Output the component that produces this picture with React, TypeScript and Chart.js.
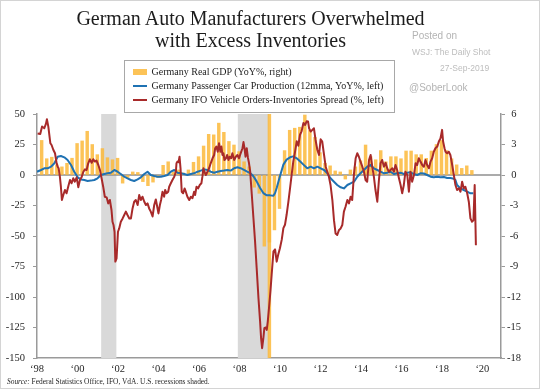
import React, { useEffect, useRef } from 'react';
import { Chart, registerables } from 'chart.js';

Chart.register(...registerables);

// ---------- text ----------
const titleLines = ['German Auto Manufacturers Overwhelmed', 'with Excess Inventories'];
const legendLabels = [
  'Germany Real GDP (YoY%, right)',
  'Germany Passenger Car Production (12mma, YoY%, left)',
  'Germany IFO Vehicle Orders-Inventories Spread (%, left)',
];
const watermarkLines = ['Posted on', 'WSJ: The Daily Shot', '27-Sep-2019', '@SoberLook'];
const sourceLabel = 'Source:';
const sourceText = ' Federal Statistics Office, IFO, VdA. U.S. recessions shaded.';

// ---------- axes ----------
const xTickYears = [1998, 2000, 2002, 2004, 2006, 2008, 2010, 2012, 2014, 2016, 2018, 2020];
const xMin = 1998;
const xMax = 2020.92;
const leftMin = -150;
const leftMax = 50;
const leftStep = 25;
const rightMin = -18;
const rightMax = 6;
const rightStep = 3;

// U.S. recessions (decimal years)
const recessionStarts = [2001.17, 2007.92];
const recessionEnds = [2001.92, 2009.45];

// ---------- Germany real GDP, YoY %, quarterly from 1998Q1 (right axis) ----------
const gdpFirstYear = 1998;
const gdpValues = [
  3.4, 1.6, 1.75, 1.0, // 1998
  0.8, 1.15, 1.65, 3.1, // 1999
  3.35, 4.3, 3.0, 2.0, // 2000
  2.6, 1.7, 1.5, 1.65, // 2001
  -0.8, -0.25, 0.3, 0.25, // 2002
  -0.65, -1.05, -0.7, -0.25, // 2003
  0.95, 1.3, 0.3, 0.5, // 2004
  0.2, 0.5, 1.25, 1.8, // 2005
  2.85, 4.0, 3.95, 5.1, // 2006
  4.2, 3.3, 2.95, 2.3, // 2007
  1.3, 0.8, -1.2, -1.8, // 2008
  -7.0, -6.6, -5.4, -3.3, // 2009
  2.4, 4.4, 4.6, 4.7, // 2010
  5.9, 4.4, 3.7, 2.2, // 2011
  1.15, 0.9, 0.4, 0.3, // 2012
  -0.4, 0.5, 0.8, 1.4, // 2013
  2.95, 1.8, 1.5, 2.4, // 2014
  1.3, 1.8, 1.8, 1.6, // 2015
  2.36, 2.36, 2.0, 2.0, // 2016
  1.64, 2.36, 3.0, 3.4, // 2017
  2.4, 1.6, 1.0, 0.65, // 2018
  0.9, 0.45, // 2019
];
// spurious full-height GDP bar drawn in the source around mid-2009
const gdpSpikeX = [2009.48];
const gdpSpikeRange = [[-18, 6]];

// ---------- Passenger car production, 12mma YoY % (left axis) ----------
const carYears = [
  1998.0, 1998.2, 1998.36, 1998.53, 1998.69, 1998.86, 1999.02, 1999.18, 1999.35, 1999.51,
  1999.68, 1999.84, 2000.01, 2000.17, 2000.34, 2000.5, 2000.66, 2000.83, 2000.99, 2001.16,
  2001.32, 2001.49, 2001.65, 2001.82, 2001.98, 2002.14, 2002.31, 2002.47, 2002.64, 2002.8,
  2002.97, 2003.13, 2003.3, 2003.46, 2003.62, 2003.79, 2003.95, 2004.12, 2004.28, 2004.45,
  2004.61, 2004.78, 2004.94, 2005.1, 2005.27, 2005.43, 2005.6, 2005.76, 2005.93, 2006.09,
  2006.26, 2006.42, 2006.58, 2006.75, 2006.91, 2007.08, 2007.24, 2007.41, 2007.57, 2007.74,
  2007.9, 2008.06, 2008.2, 2008.36, 2008.53, 2008.69, 2008.85, 2009.02, 2009.18, 2009.35,
  2009.51, 2009.68, 2009.76, 2009.84, 2010.0, 2010.17, 2010.33, 2010.5, 2010.66, 2010.83,
  2010.99, 2011.16, 2011.35, 2011.52, 2011.68, 2011.85, 2012.01, 2012.18, 2012.34, 2012.5,
  2012.67, 2012.83, 2013.0, 2013.16, 2013.33, 2013.49, 2013.66, 2013.82, 2013.98, 2014.15,
  2014.31, 2014.48, 2014.64, 2014.81, 2014.97, 2015.14, 2015.3, 2015.46, 2015.63, 2015.79,
  2015.96, 2016.12, 2016.29, 2016.45, 2016.62, 2016.78, 2016.94, 2017.11, 2017.27, 2017.44,
  2017.6, 2017.77, 2017.93, 2018.1, 2018.26, 2018.42, 2018.59, 2018.67, 2018.75, 2018.92,
  2019.08, 2019.25, 2019.41, 2019.55,
];
const carValues = [
  2.7, 4.1, 5.5, 5.5, 6.8, 9.6, 15, 15.6, 14.5, 12.3,
  8.2, 2.7, -1.9, -3.6, -4.1, -4.9, -4.6, -4.1, -2.7, 0,
  0.8, 1.4, 1.9, 4.1, 2.7, 0.8, -1.4, -2.7, -4.1, -4.9,
  -3.6, -1.9, 0.8, 2.7, 0, -0.8, -1.4, -1.4, -0.8, 0,
  2.7, 4.1, 1.9, 1.4, 0.8, 0, 0.8, 1.4, 2.7, 3.6,
  4.6, 4.1, 2.7, 1.9, 2.7, 3.3, 3.6, 4.1, 3.6, 5.5,
  6.3, 5.6, 4.4, 3.0, 1.6, -1.0, -5.2, -10.7, -14.8, -16.7,
  -16.7, -17, -14.8, -10.7, -1, 8.5, 12.6, 14.5, 15.3, 13.7,
  11.2, 8.5, 5.5, 6.8, 5.5, 6.8, 5.5, 4.1, 1.4, -2.7,
  -5.5, -8.2, -10.1, -11, -8.2, -6.8, -5.5, -1.4, 1.4, 4.1,
  6.8, 8.2, 5.5, 4.1, 2.7, 1.4, 1.9, 2.7, 0.8, 1.4,
  1.9, 0.8, 1.9, 2.2, 0.8, 0, 1.4, 1.2, 0, -1.4,
  -1.9, -1.4, -1.9, -1.6, -2.5, -2.5, -3.0, -4.1, -8.2, -11,
  -12.3, -13.7, -15, -15,
];

// ---------- IFO vehicle orders-inventories spread, % (left axis) ----------
const ifoYears = [
  1998.03, 1998.16, 1998.25, 1998.36, 1998.44, 1998.49, 1998.56, 1998.66, 1998.72, 1998.81,
  1998.89, 1998.97, 1999.02, 1999.07, 1999.13, 1999.18, 1999.23, 1999.3, 1999.38, 1999.46,
  1999.55, 1999.63, 1999.71, 1999.79, 1999.87, 1999.96, 2000.04, 2000.12, 2000.2, 2000.29,
  2000.37, 2000.45, 2000.53, 2000.61, 2000.7, 2000.78, 2000.86, 2000.94, 2001.03, 2001.11,
  2001.19, 2001.27, 2001.35, 2001.44, 2001.52, 2001.6, 2001.68, 2001.73, 2001.78, 2001.83,
  2001.87, 2001.93, 2002.0, 2002.06, 2002.14, 2002.23, 2002.31, 2002.39, 2002.47, 2002.56,
  2002.64, 2002.72, 2002.8, 2002.88, 2002.97, 2003.05, 2003.13, 2003.21, 2003.3, 2003.38,
  2003.46, 2003.54, 2003.62, 2003.71, 2003.79, 2003.87, 2003.95, 2004.0, 2004.07, 2004.13,
  2004.2, 2004.28, 2004.33, 2004.4, 2004.48, 2004.53, 2004.61, 2004.69, 2004.78, 2004.86,
  2004.89, 2004.94, 2004.99, 2005.04, 2005.09, 2005.15, 2005.22, 2005.29, 2005.35, 2005.43,
  2005.52, 2005.6, 2005.68, 2005.76, 2005.81, 2005.88, 2005.96, 2006.04, 2006.12, 2006.17,
  2006.22, 2006.27, 2006.34, 2006.42, 2006.5, 2006.58, 2006.67, 2006.75, 2006.8, 2006.86,
  2006.93, 2006.99, 2007.06, 2007.11, 2007.16, 2007.21, 2007.26, 2007.33, 2007.39, 2007.46,
  2007.52, 2007.59, 2007.65, 2007.74, 2007.82, 2007.9, 2007.98, 2008.06, 2008.15, 2008.2,
  2008.25, 2008.3, 2008.36, 2008.42, 2008.47, 2008.53, 2008.61, 2008.69, 2008.77, 2008.85,
  2008.94, 2009.02, 2009.07, 2009.12, 2009.18, 2009.23, 2009.3, 2009.35, 2009.4, 2009.46,
  2009.53, 2009.59, 2009.68, 2009.76, 2009.84, 2009.92, 2010.0, 2010.09, 2010.17, 2010.25,
  2010.33, 2010.42, 2010.5, 2010.58, 2010.66, 2010.75, 2010.83, 2010.91, 2010.99, 2011.07,
  2011.16, 2011.24, 2011.32, 2011.39, 2011.44, 2011.52, 2011.6, 2011.68, 2011.76, 2011.85,
  2011.93, 2012.01, 2012.09, 2012.18, 2012.26, 2012.34, 2012.42, 2012.5, 2012.59, 2012.67,
  2012.75, 2012.83, 2012.92, 2013.0, 2013.08, 2013.16, 2013.24, 2013.33, 2013.41, 2013.49,
  2013.57, 2013.66, 2013.74, 2013.82, 2013.9, 2013.98, 2014.07, 2014.15, 2014.23, 2014.31,
  2014.4, 2014.48, 2014.56, 2014.64, 2014.72, 2014.81, 2014.89, 2014.97, 2015.05, 2015.14,
  2015.22, 2015.3, 2015.38, 2015.46, 2015.55, 2015.63, 2015.71, 2015.79, 2015.88, 2015.96,
  2016.04, 2016.12, 2016.2, 2016.29, 2016.37, 2016.45, 2016.53, 2016.62, 2016.7, 2016.78,
  2016.86, 2016.94, 2017.03, 2017.11, 2017.19, 2017.27, 2017.36, 2017.44, 2017.52, 2017.6,
  2017.68, 2017.77, 2017.85, 2017.93, 2018.01, 2018.06, 2018.13, 2018.18, 2018.26, 2018.34,
  2018.42, 2018.51, 2018.59, 2018.67, 2018.75, 2018.84, 2018.92, 2019.0, 2019.08, 2019.16,
  2019.25, 2019.33, 2019.41, 2019.49, 2019.56, 2019.62, 2019.68,
];
const ifoValues = [
  34, 33.6, 39.7, 38.3, 41.9, 45.7, 39.7, 26, 24.6, 20.5,
  17.8, 9.6, 6.8, 5.5, -1.4, -9.6, -20.5, -16.4, -12.3, -15,
  -9, -4.1, -6.8, -2.7, -5.5, -1.9, -10, -4.1, -1.9, 2.7,
  4.6, 4.1, 9.6, 12.9, 10, 12.9, 11, 11.8, 8.2, 4.1,
  -2.7, -9.6, -17.8, -18.3, -23.3, -20.5, -28.7, -38.3, -41, -46.5,
  -71, -68.4, -46.5, -43.8, -38.3, -35.6, -32.8, -30, -32.8, -35.6,
  -35.6, -27.4, -21.9, -20.5, -24.6, -16.4, -20.5, -17.8, -21.9, -24.6,
  -23.3, -27.4, -30, -34, -24.6, -20, -27, -31.5, -24.6, -20.5,
  -13.7, -17.8, -12.3, -15, -13.7, -9.6, -6.8, -4.1, -1.4, 2.7,
  9.6, 11, 10.4, 15, 5.5, -13.7, -15, -11, -13.7, -17.8,
  -20.5, -17.8, -19, -13.7, -16.4, -9.6, -11, -8.2, -6.8, -1.4,
  5.5, 2.7, 0, 2.7, 5.5, 9.6, 13.7, 16.4, 21.9, 23.3,
  19.1, 26, 19.1, 23.3, 16.4, 17.8, 12.3, 13.7, 16.4, 12.3,
  15, 13.7, 17.8, 12.3, 15, 16.4, 13.7, 17.8, 21.9, 27,
  21.9, 15, 22, 14, 10, 3, -16, -35, -54, -76,
  -101, -120, -134, -142, -134, -125.6, -125, -127, -120, -109,
  -95.5, -82, -62.6, -61, -71, -65, -60, -53, -43.5, -40.8,
  -32.6, -21.6, -10.7, 0.3, 11.2, 19.4, 27.6, 24, 33, 35.8,
  42.7, 41, 44, 43.8, 38.3, 35.6, 37, 38.3, 28.7, 20.5,
  16.4, 29.3, 27.4, 16.4, 6.8, 2.7, -1.4, -8.2, -20.5, -37,
  -48, -49.2, -45, -43.8, -41, -30, -26, -20.5, -23.3, -17.8,
  -20.5, 1.4, 13.7, 17.8, 15, 11, 6.8, 2.7, -4.1, -5.5,
  12.3, 16.4, 6.8, -1.4, -12.3, -21.9, -4.1, 9.6, 12.3, 6.8,
  10, 5.5, 2.7, 4.1, 5.5, 2.7, 8.2, 4.1, -2.7, -8.2,
  -15, -8.2, 2.7, 0, -13.7, 2.7, -5.5, 0, 9.6, 8.2,
  13.7, 11, 8.2, 6.8, 12.3, 8.2, 5.5, 11, 13.7, 19.1,
  21.9, 23.3, 27.4, 30, 37, 27.4, 21.9, 19.1, 17.8, 19.1,
  16.4, 8.2, 0, -8.2, -12.3, -10.9, -13.7, -5.5, -10.9, -9.6,
  -15, -21.9, -35.6, -38.3, -37, -8.2, -57.5,
];

// ---------- style ----------
const SERIF = "'Liberation Serif', 'Times New Roman', serif";
const SANS = "'Liberation Sans', Arial, sans-serif";
const GDP_COLOR = 'rgba(251, 184, 58, 0.85)';
const CAR_COLOR = '#1f72b3';
const IFO_COLOR = '#a82a2a';
const AXIS_COLOR = '#9a9a9a';
const TICK_COLOR = '#262626';

const backgroundPlugin = {
  id: 'recessionsAndZero',
  beforeDatasetsDraw(chart: any) {
    const { ctx, chartArea, scales } = chart;
    const xs = scales.x;
    const ys = scales.y;
    ctx.save();
    ctx.fillStyle = '#d9d9d9';
    recessionStarts.forEach((s, i) => {
      const x0 = xs.getPixelForValue(s);
      const x1 = xs.getPixelForValue(recessionEnds[i]);
      ctx.fillRect(x0, chartArea.top, x1 - x0, chartArea.bottom - chartArea.top);
    });
    const y0 = ys.getPixelForValue(0);
    ctx.strokeStyle = '#8f8f8f';
    ctx.lineWidth = 1.5;
    ctx.beginPath();
    ctx.moveTo(chartArea.left, y0);
    ctx.lineTo(chartArea.right, y0);
    ctx.stroke();
    ctx.restore();
  },
};

export default function App() {
  const canvasRef = useRef<HTMLCanvasElement>(null);

  useEffect(() => {
    const canvas = canvasRef.current;
    if (!canvas) return;
    const gdpData = gdpValues.map((v, i) => ({ x: gdpFirstYear + 0.23 + 0.25 * i, y: v }));
    const spikeData = gdpSpikeX.map((x, i) => ({ x, y: gdpSpikeRange[i] }));
    const carData = carYears.map((x, i) => ({ x, y: carValues[i] }));
    const ifoData = ifoYears.map((x, i) => ({ x, y: ifoValues[i] }));

    const chart = new Chart(canvas, {
      type: 'bar',
      data: {
        datasets: [
          {
            type: 'line',
            label: legendLabels[2],
            data: ifoData,
            yAxisID: 'y',
            borderColor: IFO_COLOR,
            borderWidth: 2,
            pointRadius: 0,
            tension: 0,
            borderJoinStyle: 'round',
            order: 0,
          },
          {
            type: 'line',
            label: legendLabels[1],
            data: carData,
            yAxisID: 'y',
            borderColor: CAR_COLOR,
            borderWidth: 2,
            pointRadius: 0,
            tension: 0,
            borderJoinStyle: 'round',
            order: 1,
          },
          {
            type: 'bar',
            label: legendLabels[0],
            data: gdpData,
            yAxisID: 'y2',
            backgroundColor: GDP_COLOR,
            borderWidth: 0,
            barThickness: 2.8,
            grouped: false,
            order: 2,
          },
          {
            type: 'bar',
            label: 'GDP spike',
            data: spikeData as any,
            yAxisID: 'y2',
            backgroundColor: GDP_COLOR,
            borderWidth: 0,
            barThickness: 2.8,
            grouped: false,
            order: 3,
          },
        ] as any,
      },
      options: {
        animation: false,
        responsive: false,
        maintainAspectRatio: false,
        layout: { padding: { top: 114, left: 0, right: 0, bottom: 0 } },
        plugins: {
          legend: { display: false },
          tooltip: { enabled: false },
          title: { display: false },
        },
        scales: {
          x: {
            type: 'linear',
            min: xMin,
            max: xMax,
            offset: false,
            afterBuildTicks: (axis: any) => {
              axis.ticks = xTickYears.map((v) => ({ value: v }));
            },
            afterFit: (axis: any) => {
              axis.height = 33;
            },
            ticks: {
              autoSkip: false,
              maxRotation: 0,
              minRotation: 0,
              padding: 5,
              color: TICK_COLOR,
              font: { family: SERIF, size: 10.5 },
              callback: (v: any) => '\u2018' + String(v).slice(2),
            },
            grid: { offset: false, drawOnChartArea: false, drawTicks: false, color: AXIS_COLOR },
            border: { display: true, color: AXIS_COLOR, width: 1.5 },
          },
          y: {
            type: 'linear',
            position: 'left',
            min: leftMin,
            max: leftMax,
            afterFit: (axis: any) => {
              axis.width = 37;
            },
            ticks: {
              stepSize: leftStep,
              padding: 8,
              color: TICK_COLOR,
              font: { family: SERIF, size: 10.5 },
            },
            grid: { drawOnChartArea: false, drawTicks: true, tickLength: 4, color: AXIS_COLOR },
            border: { display: true, color: AXIS_COLOR, width: 1.5 },
          },
          y2: {
            type: 'linear',
            position: 'right',
            min: rightMin,
            max: rightMax,
            afterFit: (axis: any) => {
              axis.width = 40;
            },
            ticks: {
              stepSize: rightStep,
              padding: 2,
              crossAlign: 'center',
              color: TICK_COLOR,
              font: { family: SERIF, size: 10.5 },
            },
            grid: { drawOnChartArea: false, drawTicks: true, tickLength: 4, color: AXIS_COLOR },
            border: { display: true, color: AXIS_COLOR, width: 1.5 },
          },
        },
      } as any,
      plugins: [backgroundPlugin],
    });
    return () => chart.destroy();
  }, []);

  const legendRowTop = [65, 78.75, 92.5];

  return (
    <div
      style={{
        position: 'absolute',
        left: 0,
        top: 0,
        width: 541,
        height: 391,
        background: '#ffffff',
        overflow: 'hidden',
      }}
    >
      <canvas
        ref={canvasRef}
        width={541}
        height={391}
        style={{ position: 'absolute', left: 0, top: 0, width: 541, height: 391 }}
      />
      {/* frame */}
      <div
        style={{
          position: 'absolute',
          left: 0,
          top: 0,
          width: 540,
          height: 389,
          boxSizing: 'border-box',
          border: '1px solid #d4d4d4',
          pointerEvents: 'none',
        }}
      />
      {/* title */}
      <div
        style={{
          position: 'absolute',
          left: 0,
          width: 501,
          top: 7,
          textAlign: 'center',
          fontFamily: SERIF,
          fontSize: 20,
          lineHeight: '22px',
          color: '#1c1c1c',
          whiteSpace: 'nowrap',
        }}
      >
        <div>{titleLines[0]}</div>
        <div>{titleLines[1]}</div>
      </div>
      {/* watermark */}
      <div style={{ position: 'absolute', left: 412, top: 29.5, fontFamily: SANS, fontSize: 10, lineHeight: '12px', color: '#b4b4b4', whiteSpace: 'nowrap' }}>
        {watermarkLines[0]}
      </div>
      <div style={{ position: 'absolute', left: 412, top: 47, fontFamily: SANS, fontSize: 8.5, lineHeight: '10px', color: '#bdbdbd', whiteSpace: 'nowrap' }}>
        {watermarkLines[1]}
      </div>
      <div style={{ position: 'absolute', left: 440, top: 62.7, fontFamily: SANS, fontSize: 8.5, lineHeight: '10px', color: '#bdbdbd', whiteSpace: 'nowrap' }}>
        {watermarkLines[2]}
      </div>
      <div style={{ position: 'absolute', left: 409, top: 81.5, fontFamily: SANS, fontSize: 10, lineHeight: '12px', color: '#b4b4b4', whiteSpace: 'nowrap' }}>
        {watermarkLines[3]}
      </div>
      {/* legend */}
      <div
        style={{
          position: 'absolute',
          left: 124,
          top: 60,
          width: 271,
          height: 53,
          boxSizing: 'border-box',
          border: '1px solid #a8a8a8',
          background: '#ffffff',
        }}
      />
      <div style={{ position: 'absolute', left: 133, top: 69, width: 14, height: 6, background: GDP_COLOR }} />
      <div style={{ position: 'absolute', left: 133, top: 85, width: 14, height: 2.2, background: CAR_COLOR }} />
      <div style={{ position: 'absolute', left: 133, top: 98.5, width: 14, height: 2.2, background: IFO_COLOR }} />
      {legendLabels.map((t, i) => (
        <div
          key={t}
          style={{
            position: 'absolute',
            left: 151.5,
            top: legendRowTop[i],
            fontFamily: SERIF,
            fontSize: 10,
            lineHeight: '14px',
            color: '#1c1c1c',
            whiteSpace: 'nowrap',
          }}
        >
          {t}
        </div>
      ))}
      {/* source */}
      <div
        style={{
          position: 'absolute',
          left: 7,
          top: 377,
          fontFamily: SERIF,
          fontSize: 7.4,
          lineHeight: '9px',
          color: '#262626',
          whiteSpace: 'nowrap',
        }}
      >
        <i>{sourceLabel}</i>
        {sourceText}
      </div>
    </div>
  );
}
